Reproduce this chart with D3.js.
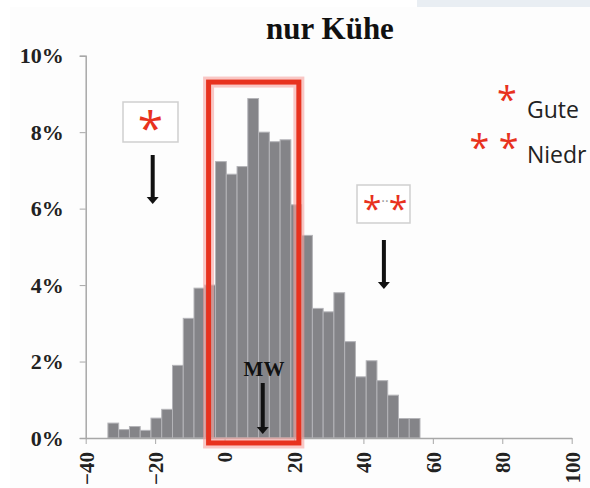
<!DOCTYPE html>
<html><head><meta charset="utf-8">
<script src="https://cdn.jsdelivr.net/npm/d3@7"></script>
<style>html,body{margin:0;padding:0;background:#fff;overflow:hidden}svg{display:block}</style>
</head><body><svg id="c" width="590" height="488"></svg>
<script>
// ---- data ----
const binStarts = [-33.6,-30.5,-27.4,-24.3,-21.2,-18.1,-15.0,-11.9,-8.8,-5.7,-2.6,0.5,3.6,6.7,9.8,12.9,16.0,19.1,22.2,25.3,28.4,31.5,34.6,37.7,40.8,43.9,47.0,50.1,53.2];
const binWidth = 3.1;
const shares = [0.39,0.22,0.30,0.20,0.52,0.75,1.90,3.13,3.92,4.0,7.23,6.9,7.1,8.88,8.0,7.75,7.8,6.1,5.3,3.39,3.3,3.8,2.52,1.6,2.02,1.5,1.12,0.51,0.51];
const yTicks = [0,2,4,6,8,10];
const xTicks = [-40,-20,0,20,40,60,80,100];
const title = "nur Kühe";
const legendMarks = ["*", "* *"];
const legendLabels = ["Gute", "Niedr"];
const meanLabel = "MW";

// ---- drawing ----
const svg = d3.select("#c");
const x = d3.scaleLinear().domain([-40,100]).range([85.7,571.7]);
const y = d3.scaleLinear().domain([0,10]).range([438,55.7]);
const serif = "'Liberation Serif','Times New Roman',serif";
const sans = "'Open Sans','Noto Sans',sans-serif";
const red = "#e8321e";

// background panel & top strip
svg.append("rect").attr("x",10).attr("y",7).attr("width",580).attr("height",481).attr("fill","#fdfdfd");
svg.append("rect").attr("x",417).attr("y",0).attr("width",173).attr("height",7).attr("fill","#e9eef3");

// title
svg.append("text").attr("x",330).attr("y",39).attr("text-anchor","middle")
  .attr("font-family",serif).attr("font-weight","bold").attr("font-size",31).attr("fill","#111").text(title);

// bars
svg.append("g").selectAll("rect").data(binStarts).join("rect")
  .attr("x",d=>x(d)).attr("width",d=>x(d+binWidth)-x(d))
  .attr("y",(d,i)=>y(shares[i])).attr("height",(d,i)=>y(0)-y(shares[i]))
  .attr("fill","#848488").attr("stroke","#b4b4b8").attr("stroke-width",1);

// y axis
const yAxis = svg.append("g").attr("transform",`translate(${x(-40)},0)`)
  .call(d3.axisLeft(y).tickValues(yTicks).tickFormat(d=>d+"%").tickSize(6).tickPadding(16));
yAxis.select(".domain").attr("stroke","#a8a8a8").attr("stroke-width",1.5);
yAxis.selectAll(".tick line").attr("stroke","#a8a8a8");
yAxis.selectAll("text").attr("font-family",serif).attr("font-weight","bold").attr("font-size",22).attr("fill","#222").attr("dy","0.32em");

// x axis
const xAxis = svg.append("g").attr("transform",`translate(0,${y(0)})`)
  .call(d3.axisBottom(x).tickValues(xTicks).tickSize(6).tickSizeOuter(0));
xAxis.select(".domain").attr("stroke","#a8a8a8").attr("stroke-width",1.5);
xAxis.selectAll(".tick line").attr("stroke","#a8a8a8");
xAxis.selectAll("text").attr("font-family",serif).attr("font-weight","bold").attr("font-size",21).attr("fill","#222")
  .attr("transform","rotate(-90)").attr("text-anchor","end").attr("x",-14).attr("y",0).attr("dy","0.35em");

// red highlight box with glow
const bx0 = x(-4.6), bx1 = x(21.4), by0 = y(9.31), by1 = y(-0.13);
svg.append("rect").attr("x",bx0).attr("y",by0).attr("width",bx1-bx0).attr("height",by1-by0)
  .attr("fill","none").attr("stroke","#f6a3a0").attr("stroke-opacity",0.6).attr("stroke-width",11);
svg.append("rect").attr("x",bx0).attr("y",by0).attr("width",bx1-bx0).attr("height",by1-by0)
  .attr("fill","none").attr("stroke",red).attr("stroke-width",5);

// arrows
function arrow(cx, y0, y1){
  svg.append("line").attr("x1",cx).attr("x2",cx).attr("y1",y0).attr("y2",y1-4)
    .attr("stroke","#111").attr("stroke-width",4);
  svg.append("path").attr("d",`M${cx-6},${y1-7}L${cx+6},${y1-7}L${cx},${y1}Z`).attr("fill","#111");
}
// box "*"
svg.append("rect").attr("x",123).attr("y",102).attr("width",55).attr("height",40)
  .attr("fill","#fff").attr("stroke","#cfcfcf").attr("stroke-width",1.5);
svg.append("text").attr("x",150.5).attr("y",145).attr("text-anchor","middle").attr("font-family",sans)
  .attr("font-size",46).attr("fill",red).text("*");
arrow(x(-20.7), 155, 204);

// box "**"
svg.append("rect").attr("x",357).attr("y",185).attr("width",53).attr("height",38)
  .attr("fill","#fff").attr("stroke","#cfcfcf").attr("stroke-width",1.5);
svg.append("text").attr("x",372).attr("y",221).attr("text-anchor","middle").attr("font-family",sans)
  .attr("font-size",34).attr("fill",red).text("*");
svg.append("text").attr("x",398).attr("y",221).attr("text-anchor","middle").attr("font-family",sans)
  .attr("font-size",34).attr("fill",red).text("*");
svg.append("text").attr("x",385).attr("y",206).attr("text-anchor","middle").attr("font-family",sans)
  .attr("font-size",14).attr("fill","#999").text("··");
arrow(x(45.9), 240, 289);

// MW
svg.append("text").attr("x",264).attr("y",376).attr("text-anchor","middle").attr("font-family",serif)
  .attr("font-weight","bold").attr("font-size",21).attr("fill","#111").text(meanLabel);
arrow(x(11.0), 383, 434);

// legend
svg.append("text").attr("x",507).attr("y",112).attr("text-anchor","middle").attr("font-family",sans)
  .attr("font-size",36).attr("fill",red).text(legendMarks[0]);
svg.append("text").attr("x",494).attr("y",160).attr("text-anchor","middle").attr("font-family",sans)
  .attr("font-size",36).attr("fill",red).attr("xml:space","preserve").text(legendMarks[1]);
svg.append("text").attr("x",527).attr("y",118).attr("font-family",sans)
  .attr("font-size",23).attr("fill","#222").text(legendLabels[0]);
svg.append("text").attr("x",527).attr("y",163).attr("font-family",sans)
  .attr("font-size",23).attr("fill","#222").text(legendLabels[1]);
</script></body></html>
